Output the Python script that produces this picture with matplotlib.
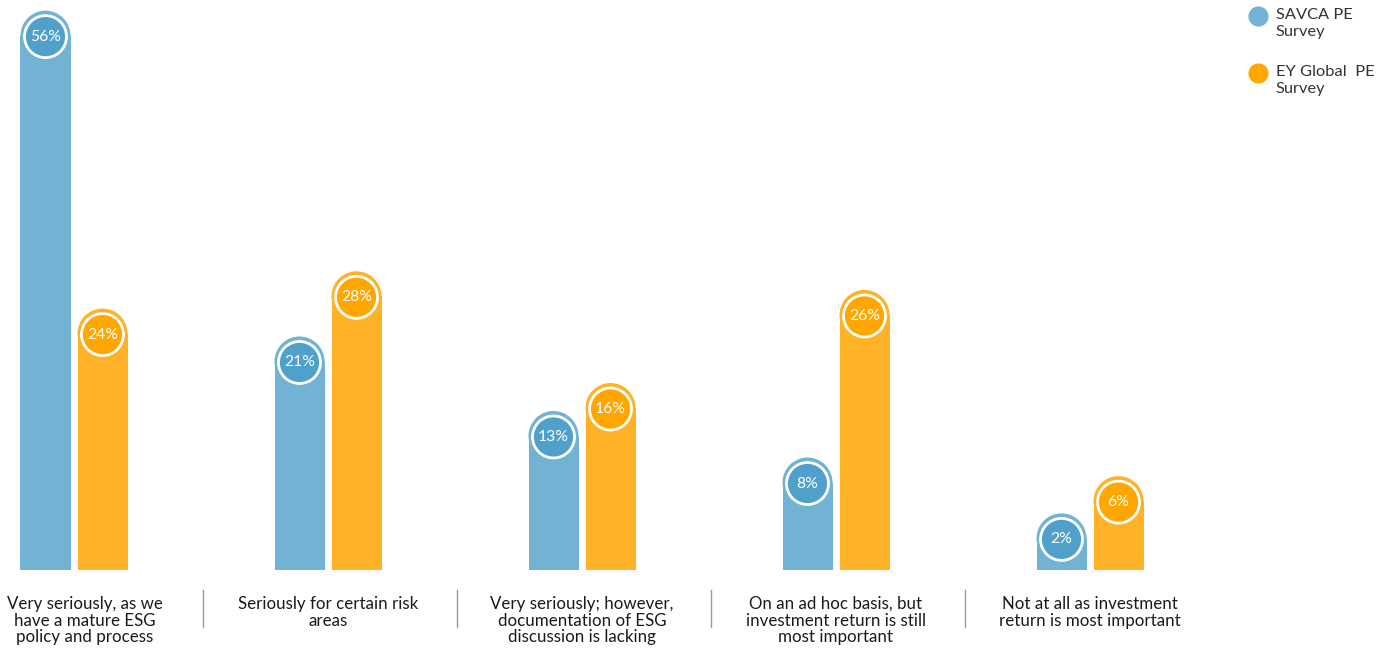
import matplotlib
matplotlib.use('Agg')
from matplotlib import pyplot as plt
from matplotlib.patches import Rectangle, Ellipse

plt.rcParams['font.family'] = ['Lato', 'DejaVu Sans']

#Survey answers
categories = ['Very seriously, as we\nhave a mature ESG\npolicy and process',
              'Seriously for certain risk\nareas',
              'Very seriously; however,\ndocumentation of ESG\ndiscussion is lacking',
              'On an ad hoc basis, but\ninvestment return is still\nmost important',
              'Not at all as investment\nreturn is most important']
savca = [56, 21, 13, 8, 2]
ey_global = [24, 28, 16, 26, 6]
series_names = ['SAVCA PE\nSurvey', 'EY Global  PE\nSurvey']

blue_bar, blue_dot = '#72b3d4', '#4fa1cb'
orange_bar, orange_dot = '#ffb226', '#ffa700'

W, H = 1391, 648
fig = plt.figure(figsize=(W/100, H/100), dpi=100)
ax = fig.add_axes([0, 0, 1, 1])
ax.axis('off')

#pixel based scale: groups 254px apart, 9.31px per percent
gx0, gstep = 74, 254
ppu = 9.31
zero_px = 532
ax.set_xlim(-gx0/gstep, (W-gx0)/gstep)
ax.set_ylim(-(H-zero_px)/ppu, zero_px/ppu)

bw = 50/gstep
off = 28.5/gstep
base = -(570-zero_px)/ppu
cap_ry = 25/ppu
ring_rx, ring_ry = 42/gstep, 42/ppu

def draw_bar(x, v, col, dotcol):
    ax.add_patch(Rectangle((x-bw/2, base), bw, v-cap_ry-base, color=col, lw=0))
    ax.add_patch(Ellipse((x, v-cap_ry), bw, 2*cap_ry, color=col, lw=0))
    cy = v - 26/ppu
    ax.add_patch(Ellipse((x, cy), ring_rx, ring_ry, facecolor=dotcol,
                         edgecolor='white', lw=2))
    ax.text(x, cy, '%d%%' % v, color='white', ha='center', va='center',
            fontsize=11.3)

#first label sits a bit right so it stays inside the figure
label_shift = [11/gstep, 0, 0, 0, 0]

for i in range(len(categories)):
    draw_bar(i-off, savca[i], blue_bar, blue_dot)
    draw_bar(i+off, ey_global[i], orange_bar, orange_dot)
    ax.text(i+label_shift[i], -(596-zero_px)/ppu, categories[i], ha='center',
            va='top', fontsize=12.2, color='#1a1a1a', linespacing=1.05)
    if i < len(categories)-1:
        ax.plot([i+0.508, i+0.508], [-(590-zero_px)/ppu, -(627-zero_px)/ppu],
                color='#9a9a9a', lw=1)

#legend
for j, (name, c) in enumerate(zip(series_names, [blue_bar, orange_dot])):
    ax.scatter([(1258-gx0)/gstep], [(zero_px-(16+57*j))/ppu], s=210, color=c,
               lw=0, clip_on=False)
    fig.text(1276/W, 1-(8+57*j)/H, name, ha='left', va='top', fontsize=11.8,
             color='#333333', linespacing=1.3)

fig.savefig('out.png', dpi=100)
